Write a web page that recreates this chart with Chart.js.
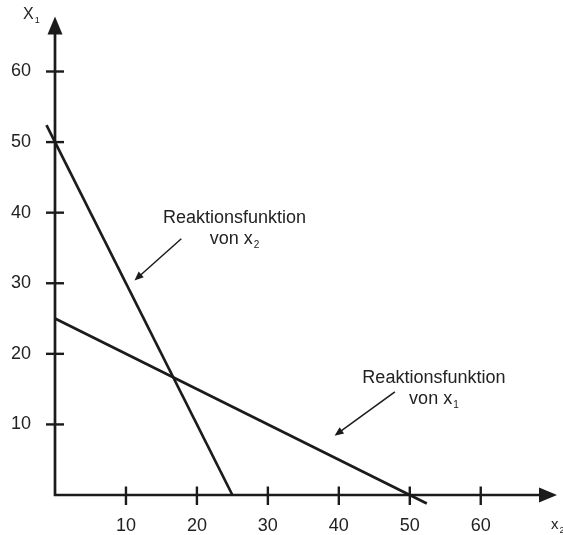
<!DOCTYPE html>
<html><head><meta charset="utf-8">
<script src="https://cdn.jsdelivr.net/npm/chart.js@4"></script>
<style>html,body{margin:0;padding:0;background:#fff}#wrap{width:563px;height:535px;position:relative}</style>
</head><body><div id="wrap"><canvas id="c"></canvas></div>
<script>
// ---- data ----
const xTicks = [10, 20, 30, 40, 50, 60];
const yTicks = [10, 20, 30, 40, 50, 60];
const reactionX2_x = [-1.2, 25];
const reactionX2_y = [52.4, 0];
const reactionX1_x = [0, 52.4];
const reactionX1_y = [25, -1.2];
const labelTitles = ['Reaktionsfunktion', 'Reaktionsfunktion'];
const labelSecond = ['von x', 'von x'];
const labelSubs = ['2', '1'];

// ---- styling / layout ----
const INK = '#1b1b1b';
const TXT = '#222';
const FONT = "'Liberation Sans', Arial, sans-serif";
const annPos = [
  { x: 25.3, y: 38.6, from: [17.8, 36.3], to: [11.2, 30.4] },
  { x: 53.4, y: 15.9, from: [47.9, 14.6], to: [39.4, 8.4] }
];

function toPts(xs, ys) { return xs.map((v, i) => ({ x: v, y: ys[i] })); }

function arrowHead(ctx, x1, y1, x2, y2, len, half) {
  const a = Math.atan2(y2 - y1, x2 - x1);
  ctx.beginPath();
  ctx.moveTo(x2, y2);
  ctx.lineTo(x2 - len * Math.cos(a) + half * Math.sin(a), y2 - len * Math.sin(a) - half * Math.cos(a));
  ctx.lineTo(x2 - len * Math.cos(a) - half * Math.sin(a), y2 - len * Math.sin(a) + half * Math.cos(a));
  ctx.closePath();
  ctx.fill();
}

function textWithSub(ctx, main, sub, cx, baseline, size, subSize, align) {
  ctx.font = size + 'px ' + FONT;
  const w1 = ctx.measureText(main).width;
  ctx.font = subSize + 'px ' + FONT;
  const w2 = ctx.measureText(sub).width;
  let start = align === 'center' ? cx - (w1 + w2 + 1) / 2 : cx;
  ctx.textAlign = 'left';
  ctx.textBaseline = 'alphabetic';
  ctx.font = size + 'px ' + FONT;
  ctx.fillText(main, start, baseline);
  ctx.font = subSize + 'px ' + FONT;
  ctx.fillText(sub, start + w1 + 1, baseline + 4);
}

const axesPlugin = {
  id: 'axesPlugin',
  afterDatasetsDraw(chart) {
    const { ctx, scales: { x, y } } = chart;
    const x0 = x.getPixelForValue(0), y0 = y.getPixelForValue(0);
    const xTip = x.getPixelForValue(70.75), yTip = y.getPixelForValue(67.8);
    ctx.save();
    ctx.strokeStyle = INK; ctx.fillStyle = INK; ctx.lineWidth = 2.7;
    ctx.beginPath();
    ctx.moveTo(x0, yTip + 10); ctx.lineTo(x0, y0); ctx.lineTo(xTip - 10, y0);
    ctx.stroke();
    ctx.beginPath(); ctx.moveTo(x0, yTip); ctx.lineTo(x0 - 7.5, yTip + 18); ctx.lineTo(x0 + 7.5, yTip + 18); ctx.closePath(); ctx.fill();
    ctx.beginPath(); ctx.moveTo(xTip, y0); ctx.lineTo(xTip - 18, y0 - 7.5); ctx.lineTo(xTip - 18, y0 + 7.5); ctx.closePath(); ctx.fill();
    ctx.lineWidth = 2.4;
    x.ticks.forEach(t => { const p = x.getPixelForValue(t.value); ctx.beginPath(); ctx.moveTo(p, y0 - 8.5); ctx.lineTo(p, y0 + 10); ctx.stroke(); });
    y.ticks.forEach(t => { const p = y.getPixelForValue(t.value); ctx.beginPath(); ctx.moveTo(x0 - 9, p); ctx.lineTo(x0 + 9, p); ctx.stroke(); });
    ctx.fillStyle = TXT;
    textWithSub(ctx, 'X', '1', 23, 19, 16, 9, 'left');
    textWithSub(ctx, 'x', '2', 551, 529, 15, 9, 'left');
    annPos.forEach((a, i) => {
      const cx = x.getPixelForValue(a.x), by = y.getPixelForValue(a.y);
      ctx.fillStyle = TXT;
      ctx.font = '18px ' + FONT; ctx.textAlign = 'center'; ctx.textBaseline = 'alphabetic';
      ctx.fillText(labelTitles[i], cx, by);
      textWithSub(ctx, labelSecond[i], labelSubs[i], cx, by + 21, 18, 10, 'center');
      const fx = x.getPixelForValue(a.from[0]), fy = y.getPixelForValue(a.from[1]);
      const tx = x.getPixelForValue(a.to[0]), ty = y.getPixelForValue(a.to[1]);
      ctx.strokeStyle = INK; ctx.fillStyle = INK; ctx.lineWidth = 1.5;
      const ang = Math.atan2(ty - fy, tx - fx);
      ctx.beginPath(); ctx.moveTo(fx, fy); ctx.lineTo(tx - 6 * Math.cos(ang), ty - 6 * Math.sin(ang)); ctx.stroke();
      arrowHead(ctx, fx, fy, tx, ty, 9, 3.8);
    });
    ctx.restore();
  }
};

new Chart(document.getElementById('c'), {
  type: 'scatter',
  data: {
    datasets: [
      { data: toPts(reactionX2_x, reactionX2_y), showLine: true, borderColor: INK, borderWidth: 2.7, pointRadius: 0, clip: false },
      { data: toPts(reactionX1_x, reactionX1_y), showLine: true, borderColor: INK, borderWidth: 2.7, pointRadius: 0, clip: false }
    ]
  },
  options: {
    responsive: true, maintainAspectRatio: false, animation: false,
    layout: { padding: { top: 14.5, right: 11.3, left: 0, bottom: 0 } },
    plugins: { legend: { display: false }, tooltip: { enabled: false } },
    scales: {
      x: {
        type: 'linear', min: 0, max: 70,
        grid: { display: false, drawTicks: false }, border: { display: false },
        afterBuildTicks: s => { s.ticks = xTicks.map(v => ({ value: v })); },
        afterFit: s => { s.height = 40; },
        ticks: { autoSkip: false, maxRotation: 0, padding: 20, color: TXT, font: { family: FONT, size: 18 } }
      },
      y: {
        type: 'linear', min: 0, max: 65.2,
        grid: { display: false, drawTicks: false }, border: { display: false },
        afterBuildTicks: s => { s.ticks = yTicks.map(v => ({ value: v })); },
        afterFit: s => { s.width = 55; },
        ticks: { autoSkip: false, padding: 24, color: TXT, font: { family: FONT, size: 18 } }
      }
    }
  },
  plugins: [axesPlugin]
});
</script></body></html>
